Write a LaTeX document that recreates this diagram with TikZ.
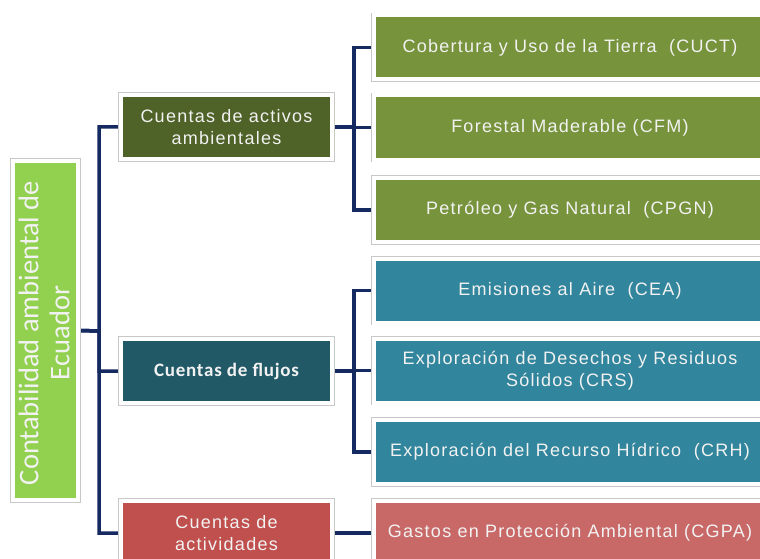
\documentclass[tikz,border=0pt]{standalone}
\usepackage{fontspec}
\newfontfamily\arialsp[LetterSpace=7]{Liberation Sans}
\newfontfamily\calib{Carlito}
\newfontfamily\calibsp[LetterSpace=4]{Carlito}
\usetikzlibrary{backgrounds}
\definecolor{navy}{RGB}{22,42,98}
\definecolor{rootgreen}{RGB}{146,208,80}
\definecolor{olive}{RGB}{79,98,40}
\definecolor{tealdark}{RGB}{33,89,103}
\definecolor{redbox}{RGB}{192,80,77}
\definecolor{greenbox}{RGB}{119,147,60}
\definecolor{tealbox}{RGB}{49,133,156}
\definecolor{redlight}{RGB}{200,105,104}
\definecolor{frame}{RGB}{200,200,200}
\definecolor{txt}{RGB}{242,242,242}
\tikzset{
  box/.style={rectangle, draw=white, line width=4pt, inner sep=0pt,
    preaction={draw=frame, line width=5.6pt},
    align=center, text=txt, font=\arialsp\fontsize{18}{22.5}\selectfont},
  lvone/.style={box, minimum width=211pt, minimum height=64pt},
  lvtwo/.style={box, minimum width=392pt, minimum height=64pt},
  conn/.style={draw=navy, line width=3.5pt, line join=miter}
}
\begin{document}
\begin{tikzpicture}[x=1pt,y=-1pt]
\useasboundingbox (0,0) rectangle (760,559);
\begin{scope}
\clip (0,0) rectangle (760,559);
\node[box, fill=rootgreen, minimum width=65pt, minimum height=339pt] (root) at (45.5,330.5) {};
\node[rotate=90, text=txt, align=center, font=\calib\fontsize{28.5}{31}\selectfont] (roottext) at (44,333) {Contabilidad ambiental de\\Ecuador};

\node[lvone, fill=olive] (act) at (226.5,127) {Cuentas de activos\\ambientales};
\node[lvone, fill=tealdark, font=\calibsp\bfseries\fontsize{19}{22}\selectfont] (flu) at (226.5,371) {Cuentas de flujos};
\node[lvone, fill=redbox] (acd) at (226.5,533) {Cuentas de\\actividades};

\node[lvtwo, fill=greenbox] (cuct) at (570,47.5) {Cobertura y Uso de la Tierra\ \ (CUCT)};
\node[lvtwo, fill=greenbox] (cfm) at (570,127.5) {Forestal Maderable (CFM)};
\node[lvtwo, fill=greenbox] (cpgn) at (570,210) {Petróleo y Gas Natural\ \ (CPGN)};
\node[lvtwo, fill=tealbox] (cea) at (570,290.5) {Emisiones al Aire\ \ (CEA)};
\node[lvtwo, fill=tealbox] (crs) at (570,370.5) {Exploración de Desechos y Residuos\\Sólidos (CRS)};
\node[lvtwo, fill=tealbox] (crh) at (570,452) {Exploración del Recurso Hídrico\ \ (CRH)};
\node[lvtwo, fill=redlight] (cgpa) at (570,533) {Gastos en Protección Ambiental (CGPA)};

\coordinate (tk) at (99,331);
\coordinate (ta) at (354,127);
\coordinate (tf) at (354,371);

\begin{scope}[on background layer]
\fill[white] (0,0) rectangle (760,559);
\draw[conn] (root.east) -- (tk) |- (act.west);
\draw[conn] (root.east) -- (tk) |- (flu.west);
\draw[conn] (root.east) -- (tk) |- (acd.west);
\draw[conn] (act.east) -- (ta) |- (cuct.west);
\draw[conn] (act.east) -- (ta) |- (cfm.west);
\draw[conn] (act.east) -- (ta) |- (cpgn.west);
\draw[conn] (flu.east) -- (tf) |- (cea.west);
\draw[conn] (flu.east) -- (tf) |- (crs.west);
\draw[conn] (flu.east) -- (tf) |- (crh.west);
\draw[conn] (acd.east) -- (cgpa.west);
\end{scope}
\end{scope}
\end{tikzpicture}
\end{document}
